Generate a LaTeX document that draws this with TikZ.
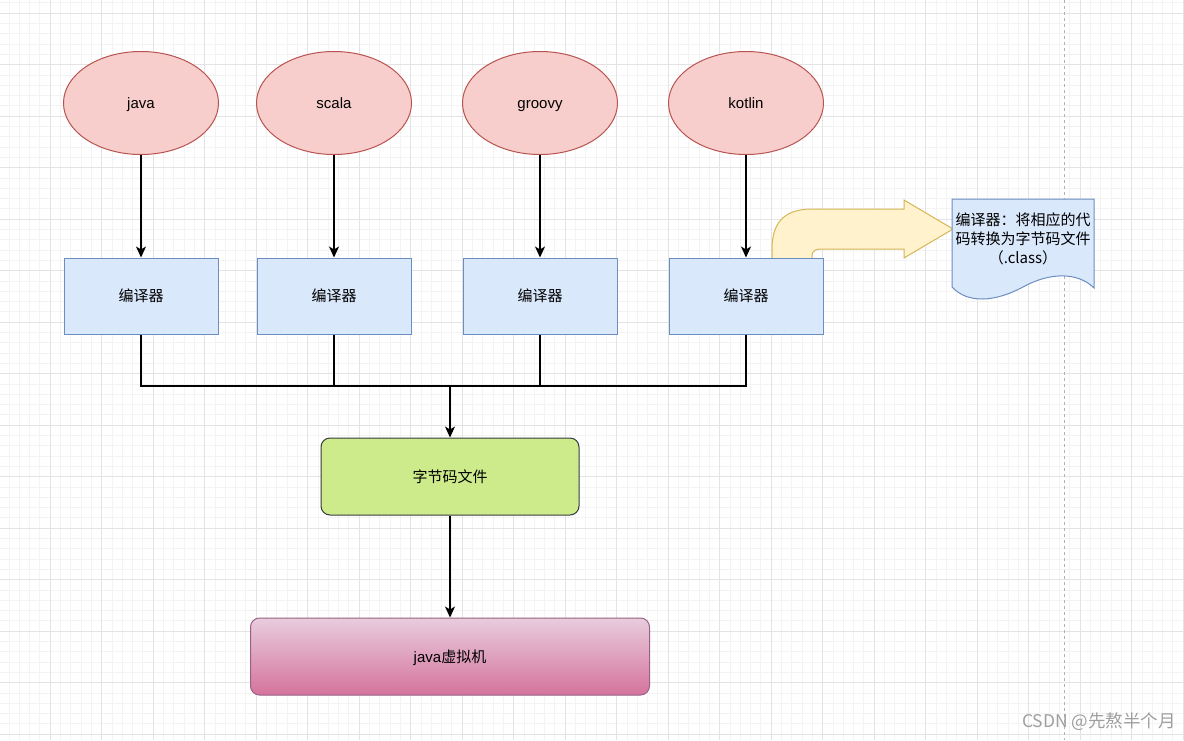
\documentclass[tikz,border=0pt]{standalone}
\usepackage{fontspec}
\setmainfont{Liberation Sans}
\newfontfamily\cjk{Noto Sans CJK SC}
\usetikzlibrary{arrows.meta,shapes.geometric,calc}
\definecolor{ellfill}{HTML}{F8CECC}
\definecolor{elldraw}{HTML}{B85450}
\definecolor{boxfill}{HTML}{DAE8FC}
\definecolor{boxdraw}{HTML}{6C8EBF}
\definecolor{grnfill}{HTML}{CDEB8B}
\definecolor{grndraw}{HTML}{36393D}
\definecolor{pktop}{HTML}{E8CDDD}
\definecolor{pkbot}{HTML}{D5739D}
\definecolor{pkdraw}{HTML}{996185}
\definecolor{ylfill}{HTML}{FFF2CC}
\definecolor{yldraw}{HTML}{D6B656}
\definecolor{minorc}{HTML}{F3F3F3}
\definecolor{majorc}{HTML}{E3E3E3}
\tikzset{
  txt/.style={font=\fontsize{15}{18}\selectfont,text height=14.5pt,text depth=3pt},
  lang/.style={ellipse,draw=elldraw,fill=ellfill,line width=1pt,minimum width=155pt,minimum height=103pt,inner sep=0pt,txt},
  comp/.style={rectangle,draw=boxdraw,fill=boxfill,line width=1pt,minimum width=154pt,minimum height=76pt,inner sep=0pt,txt,font=\fontsize{15}{18}\selectfont\cjk},
  bytebox/.style={rectangle,rounded corners=9pt,draw=grndraw,fill=grnfill,line width=1pt,minimum width=258pt,minimum height=77pt,inner sep=0pt,txt,font=\fontsize{15}{18}\selectfont\cjk},
  jvmbox/.style={rectangle,rounded corners=9pt,draw=pkdraw,top color=pktop,bottom color=pkbot,line width=1pt,minimum width=399pt,minimum height=77pt,inner sep=0pt,txt},
  arr/.style={line width=1.2pt,-{Stealth[length=11pt,width=10pt,inset=3pt]}},
  conn/.style={line width=1.2pt},
  minorgrid/.style={draw=minorc,line width=0.6pt},
  majorgrid/.style={draw=majorc,line width=0.8pt},
}
\begin{document}
\begin{tikzpicture}[x=1pt,y=-1pt]
\useasboundingbox (0,0) rectangle (1184,740);
\fill[white] (0,0) rectangle (1184,740);
% grid
\foreach \i in {0,...,115} {\draw[minorgrid] ({-1.5+\i*10.3},0) -- ({-1.5+\i*10.3},740);}
\foreach \i in {0,...,72} {\draw[minorgrid] (0,{2.7+\i*10.3}) -- (1184,{2.7+\i*10.3});}
\foreach \i in {0,...,23} {\draw[majorgrid] ({-1.5+\i*51.5},0) -- ({-1.5+\i*51.5},740);}
\foreach \i in {0,...,14} {\draw[majorgrid] (0,{13+\i*51.5}) -- (1184,{13+\i*51.5});}
\draw[gray!60,dashed,line width=0.8pt] (1064,0) -- (1064,740);

% yellow bent arrow (behind box)
\draw[draw=yldraw,fill=ylfill,line width=1pt]
  (772,259) -- (772,249) .. controls (772,222) and (785,209) .. (812,209)
  -- (904,209) -- (904,200) -- (953,229) -- (904,258) -- (904,249)
  -- (822,249) .. controls (815,249) and (812,251) .. (812,256) -- (812,259);

% ellipses
\node[lang] (e1) at (141,103) {java};
\node[lang] (e2) at (334,103) {scala};
\node[lang] (e3) at (540,103) {groovy};
\node[lang] (e4) at (746,103) {kotlin};
% compilers
\node[comp] (c1) at (141,296) {编译器};
\node[comp] (c2) at (334,296) {编译器};
\node[comp] (c3) at (540,296) {编译器};
\node[comp] (c4) at (746,296) {编译器};
% bytecode
\node[bytebox] (bc) at (450,476.5) {字节码文件};
\node[jvmbox] (jvm) at (450,656.5) {java{\cjk 虚拟机}};

% note
\path[draw=boxdraw,fill=boxfill,line width=1pt]
  (952,199) -- (1094,199) -- (1094,288)
  .. controls (1078,272) and (1050,272) .. (1023,287)
  .. controls (995,302) and (968,304) .. (952,287) -- cycle;
\node[font=\fontsize{15}{19}\selectfont\cjk,align=center,inner sep=0pt] (note) at (1023,238.5) {编译器：将相应的代\\码转换为字节码文件\\（.class）};

% connectors
\coordinate (bus) at (450,386);
\foreach \k in {1,2,3,4} {\draw[arr] (e\k.south) -- (c\k.north);}
\foreach \k in {1,2,3,4} {\draw[conn] (c\k.south) |- (bus);}
\draw[arr] (bus) -- (bc.north);
\draw[arr] (bc.south) -- (jvm.north);

% watermark
\node[font=\fontsize{17.5}{20}\selectfont\cjk,text=gray!75,anchor=east,inner sep=0pt] (wm) at (1176,722) {CSDN @先熬半个月};
\end{tikzpicture}
\end{document}
